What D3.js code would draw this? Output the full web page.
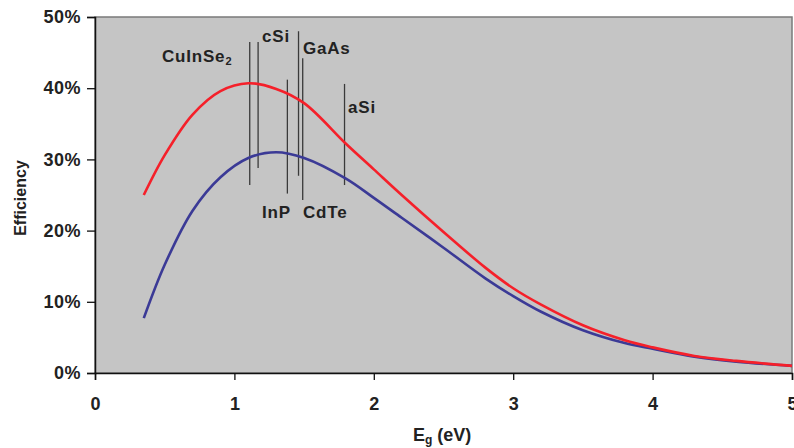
<!DOCTYPE html>
<meta charset="utf-8">
<head>
  <title>efficiency vs band gap</title>
</head>
<style>
  body { margin: 0; background: #fff; }
  text { font-family: Arial, "Liberation Sans", sans-serif; fill: #222; }
</style>
<body>
  <svg width="794" height="448"></svg>
  <script src="https://cdnjs.cloudflare.com/ajax/libs/d3/7.8.5/d3.min.js"></script>
  <script>
    // band gap (eV) sample points
    var eg = [0.35, 0.5, 0.7, 0.9, 1.1, 1.3, 1.5, 1.8, 2.0, 2.2, 2.5, 2.8, 3.0, 3.2, 3.5, 3.8, 4.0, 4.3, 4.6, 5.0]
    // efficiency (%) – upper (red) and lower (blue) curves
    var redEff = [25.0, 30.6, 36.3, 39.6, 40.7, 39.9, 37.9, 32.2, 28.6, 25.0, 19.8, 14.8, 11.9, 9.6, 6.7, 4.6, 3.6, 2.4, 1.7, 1.0]
    var blueEff = [7.7, 15.2, 22.8, 27.5, 30.2, 31.0, 30.2, 27.3, 24.6, 21.8, 17.6, 13.3, 10.8, 8.6, 6.0, 4.2, 3.4, 2.3, 1.6, 1.0]

    // material markers: band gap, top and bottom of line (%)
    var materials = ['CuInSe2', 'cSi', 'InP', 'GaAs', 'CdTe', 'aSi']
    var matEg = [1.11, 1.17, 1.38, 1.46, 1.49, 1.79]
    var matTop = [46.5, 46.5, 41.2, 48.0, 44.2, 40.6]
    var matBottom = [26.4, 28.8, 25.2, 27.7, 24.3, 26.4]

    var xTicks = [0, 1, 2, 3, 4, 5]
    var yTicks = [0, 10, 20, 30, 40, 50]

    var margin = { left: 95, right: 2, top: 17, bottom: 75 }
    var width = 794, height = 448

    var svg = d3.select('svg')

    var x = d3.scaleLinear().domain([0, 5]).range([margin.left, width - margin.right])
    var y = d3.scaleLinear().domain([0, 50]).range([height - margin.bottom, margin.top])

    // plot area
    svg.append('rect')
      .attr('x', x(0)).attr('y', y(50))
      .attr('width', x(5) - x(0)).attr('height', y(0) - y(50))
      .attr('fill', '#c5c5c5')
      .attr('stroke', '#7a7a7a')
      .attr('stroke-width', 1.5)

    // material lines
    matEg.forEach(function(e, i) {
      svg.append('line')
        .attr('x1', x(e)).attr('x2', x(e))
        .attr('y1', y(matTop[i])).attr('y2', y(matBottom[i]))
        .attr('stroke', '#3a3a3a')
        .attr('stroke-width', 1.3)
    })

    var line = d3.line().curve(d3.curveCatmullRom.alpha(0.5))

    svg.append('path')
      .attr('d', line(eg.map(function(e, i) { return [x(e), y(blueEff[i])] })))
      .attr('fill', 'none')
      .attr('stroke', '#3b3a96')
      .attr('stroke-width', 2.6)

    svg.append('path')
      .attr('d', line(eg.map(function(e, i) { return [x(e), y(redEff[i])] })))
      .attr('fill', 'none')
      .attr('stroke', '#f5202a')
      .attr('stroke-width', 2.6)

    // material labels
    var labelPos = {
      CuInSe2: [162, 62], cSi: [262, 42], GaAs: [303, 54],
      aSi: [348, 113], InP: [262, 218], CdTe: [303, 218]
    }
    materials.forEach(function(m) {
      var t = svg.append('text')
        .attr('x', labelPos[m][0]).attr('y', labelPos[m][1])
        .attr('font-size', 17).attr('font-weight', 'bold')
        .attr('letter-spacing', 0.8)
      if (m === 'CuInSe2') {
        t.append('tspan').text('CuInSe')
        t.append('tspan').text('2').attr('font-size', 11).attr('dy', 3)
      } else {
        t.text(m)
      }
    })

    // axes
    var xAxis = d3.axisBottom(x).tickValues(xTicks).tickSize(7).tickFormat(d3.format('d'))
    var yAxis = d3.axisLeft(y).tickValues(yTicks).tickSize(8).tickFormat(function(d) { return d + '%' })

    var gx = svg.append('g').attr('transform', 'translate(0,' + y(0) + ')').call(xAxis)
    var gy = svg.append('g').attr('transform', 'translate(' + x(0) + ',0)').call(yAxis)

    gx.select('.domain').attr('stroke', '#111').attr('stroke-width', 1.5)
    gy.select('.domain').attr('stroke', '#111').attr('stroke-width', 1.5)
    svg.selectAll('.tick line').attr('stroke', '#111').attr('stroke-width', 1.3)
    gx.selectAll('.tick text')
      .attr('font-size', 18).attr('font-weight', 'bold').attr('fill', '#2a2a2a')
      .attr('font-family', 'Arial, "Liberation Sans", sans-serif')
      .attr('y', 37).attr('dy', 0)
    gy.selectAll('.tick text')
      .attr('font-size', 18).attr('font-weight', 'bold').attr('fill', '#2a2a2a')
      .attr('font-family', 'Arial, "Liberation Sans", sans-serif')
      .attr('letter-spacing', 0.5)
      .attr('x', -14)

    // axis titles
    svg.append('text')
      .attr('transform', 'translate(26,' + 198 + ') rotate(-90)')
      .attr('text-anchor', 'middle')
      .attr('font-size', 16)
      .attr('font-weight', 'bold')
      .text('Efficiency')

    var xt = svg.append('text')
      .attr('x', 413).attr('y', 441)
      .attr('font-size', 18)
      .attr('font-weight', 'bold')
    xt.append('tspan').text('E')
    xt.append('tspan').text('g').attr('font-size', 12).attr('dy', 3)
    xt.append('tspan').text(' (eV)').attr('dy', -3)
  </script>
</body>
</html>
